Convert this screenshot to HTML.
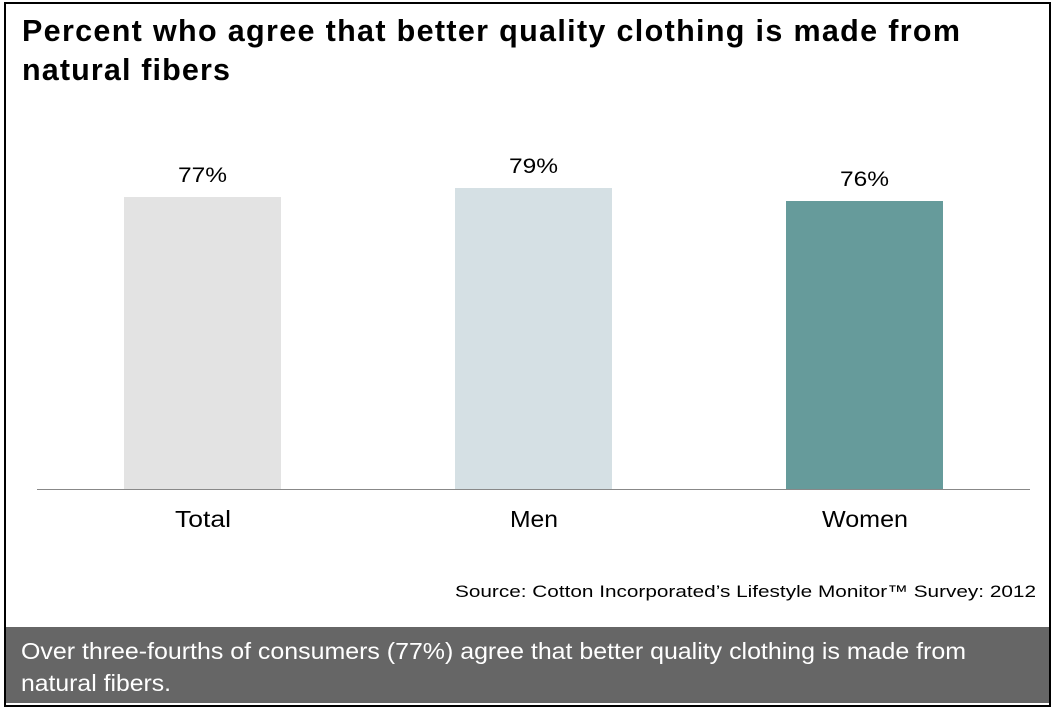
<!DOCTYPE html>
<html><head><style>
body{margin:0;width:1053px;height:709px;background:#fff;font-family:"Liberation Sans",Arial,sans-serif;position:relative;overflow:hidden}
.a{position:absolute}
</style></head><body>
<div class="a" style="left:4px;top:2px;width:1043px;height:701px;border:2px solid #000;"></div>
<div class="a" style="left:124px;top:197px;width:157px;height:293px;background:#e3e3e3"></div>
<div class="a" style="left:455px;top:188px;width:157px;height:302px;background:#d5e0e4"></div>
<div class="a" style="left:786px;top:201px;width:157px;height:289px;background:#669b9b"></div>
<div class="a" style="left:37px;top:489px;width:993px;height:1px;background:#888"></div>
<div class="a" style="left:6px;top:627px;width:1043px;height:76px;background:#666"></div>
<svg class="a" style="left:0;top:0" width="1053" height="709" font-family="Liberation Sans, Arial, sans-serif">
<text x="22" y="41" font-size="30.5" font-weight="bold" textLength="938" lengthAdjust="spacing">Percent who agree that better quality clothing is made from</text>
<text x="22" y="80" font-size="30.5" font-weight="bold" textLength="208" lengthAdjust="spacing">natural fibers</text>
<text x="178" y="182" font-size="21" textLength="49" lengthAdjust="spacingAndGlyphs">77%</text>
<text x="509" y="173" font-size="21" textLength="49" lengthAdjust="spacingAndGlyphs">79%</text>
<text x="840" y="186" font-size="21" textLength="49" lengthAdjust="spacingAndGlyphs">76%</text>
<text x="175" y="527" font-size="23" textLength="56" lengthAdjust="spacingAndGlyphs">Total</text>
<text x="510" y="527" font-size="23" textLength="48" lengthAdjust="spacingAndGlyphs">Men</text>
<text x="822" y="527" font-size="23" textLength="86" lengthAdjust="spacingAndGlyphs">Women</text>
<text x="455" y="597" font-size="17" textLength="581" lengthAdjust="spacingAndGlyphs">Source: Cotton Incorporated’s Lifestyle Monitor™ Survey: 2012</text>
<text x="21" y="659" font-size="23" fill="#fff" textLength="945" lengthAdjust="spacingAndGlyphs">Over three-fourths of consumers (77%) agree that better quality clothing is made from</text>
<text x="21" y="691" font-size="23" fill="#fff" textLength="150" lengthAdjust="spacingAndGlyphs">natural fibers.</text>
</svg>
</body></html>
